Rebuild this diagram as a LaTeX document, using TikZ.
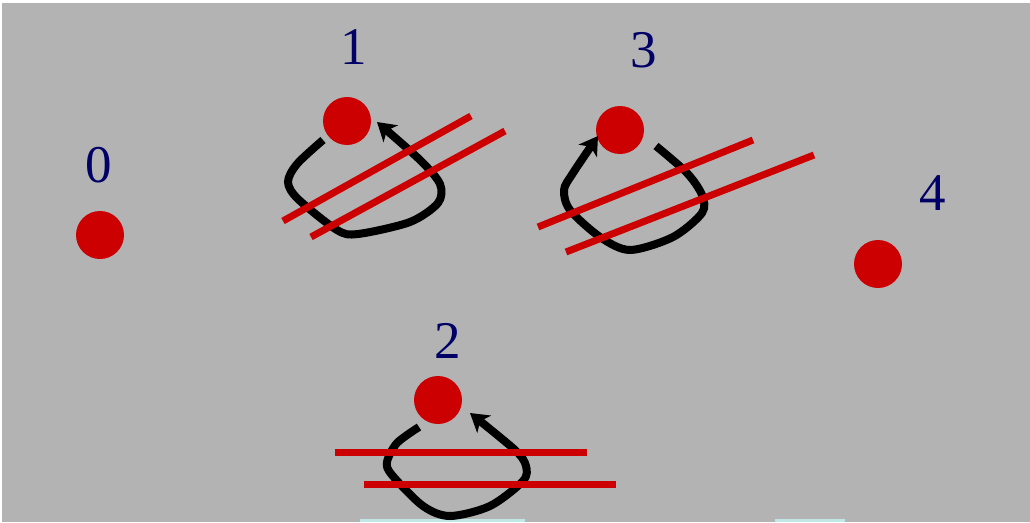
\documentclass[tikz,border=0pt]{standalone}
\usepackage{fontspec}
\setmainfont{Liberation Serif}
\usetikzlibrary{arrows.meta}
\definecolor{bggray}{RGB}{179,179,179}
\definecolor{dotred}{RGB}{204,0,0}
\definecolor{navy}{RGB}{0,0,102}
\definecolor{lightcyan}{RGB}{192,230,230}
\tikzset{
  dot/.style={circle,fill=dotred,inner sep=0pt,minimum size=48pt},
  lbl/.style={text=navy,font=\fontsize{53}{53}\selectfont,inner sep=0pt},
  loopline/.style={draw=black,line width=8pt,line join=round,-{Stealth[length=18pt,width=22pt,inset=5pt]}},
  cross/.style={draw=dotred,line width=7pt},
  bar/.style={fill=lightcyan}
}
\begin{document}
\begin{tikzpicture}[x=1pt,y=-1pt]
\useasboundingbox (0,0) rectangle (1030,522);
\fill[white] (0,0) rectangle (1030,522);
\fill[bggray] (2,3) rectangle (1030,522);
% cyan bars at bottom
\fill[bar] (360,519) rectangle (525,522);
\fill[bar] (775,519) rectangle (845,522);
% dots
\node[dot] (n0) at (100,235) {};
\node[dot] (n1) at (347,121) {};
\node[dot] (n3) at (620,130) {};
\node[dot] (n2) at (438,400) {};
\node[dot] (n4) at (878,264) {};
% labels
\node[lbl] (l0) at (99,165) {0};
\node[lbl] (l1) at (354,47) {1};
\node[lbl] (l3) at (644,50) {3};
\node[lbl] (l2) at (448,341) {2};
\node[lbl] (l4) at (933,193) {4};
% loops
\coordinate (s1) at (323,140);
\coordinate (e1) at (377,122);
\draw[loopline] plot[smooth,tension=0.5] coordinates {(s1) (297,164) (288,182) (298,199) (337,230) (358,234) (410,222) (438,203) (440,184) (420,160) (e1)};
\coordinate (s3) at (656,146);
\coordinate (e3) at (598,136);
\draw[loopline] plot[smooth,tension=0.5] coordinates {(s3) (687,173) (702,195) (702,213) (673,237) (630,250) (600,237) (570,210) (564,190) (573,173) (e3)};
\coordinate (s2) at (419,427);
\coordinate (e2) at (470,413);
\draw[loopline] plot[smooth,tension=0.5] coordinates {(s2) (397,443) (387,462) (392,475) (423,506) (450,516) (490,506) (523,481) (526,466) (515,450) (e2)};
% crossing lines
\draw[cross] (283,221) -- (471,116);
\draw[cross] (311,237) -- (505,131);
\draw[cross] (538,227) -- (753,140);
\draw[cross] (566,252) -- (814,155);
\draw[cross] (335,452) -- (587,452);
\draw[cross] (364,484) -- (616,484);
\end{tikzpicture}
\end{document}
